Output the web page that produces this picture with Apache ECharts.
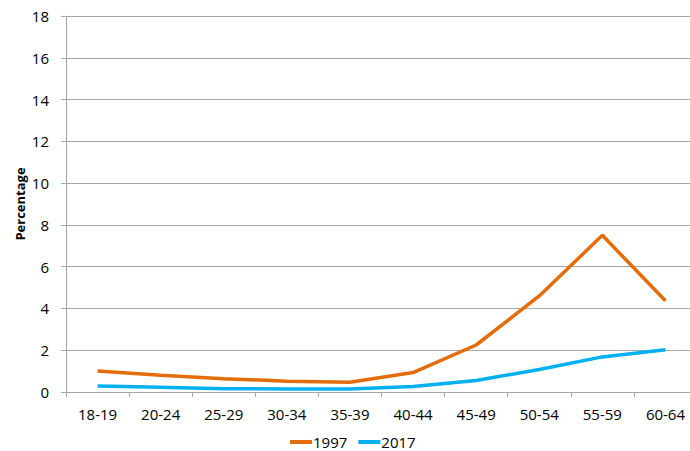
<!DOCTYPE html>
<html>
<head>
<meta charset="utf-8">
<script src="https://cdn.jsdelivr.net/npm/echarts@6/dist/echarts.min.js"></script>
<style>
  html, body { margin: 0; padding: 0; background: #fff; }
  #chart { width: 690px; height: 451px; }
</style>
</head>
<body>
<div id="chart"></div>
<script>
var ageGroups = ['18-19', '20-24', '25-29', '30-34', '35-39', '40-44', '45-49', '50-54', '55-59', '60-64'];
var values1997 = [1.0, 0.8, 0.64, 0.52, 0.47, 0.93, 2.25, 4.6, 7.5, 4.37];
var values2017 = [0.29, 0.23, 0.16, 0.14, 0.14, 0.26, 0.55, 1.08, 1.68, 2.02];
var yTicks = { min: 0, max: 18, step: 2 };

var orange = '#E46C0A';
var blue = '#00B0F0';
var grey = '#A6A6A6';
var font = '"Open Sans", sans-serif';

var chart = echarts.init(document.getElementById('chart'), null, { renderer: 'svg' });
chart.setOption({
  animation: false,
  // the plot runs a little past the right edge of the picture, as in the reference
  grid: { left: 66, width: 631, top: 16, height: 376, outerBoundsMode: 'none', containLabel: false },
  legend: {
    data: ['1997', '2017'],
    left: 285,
    top: 429,
    icon: 'rect',
    itemWidth: 22,
    itemHeight: 4,
    itemGap: 11,
    textStyle: { color: '#000', fontSize: 15, lineHeight: 16, fontFamily: font, padding: [0, 0, 0, -4] }
  },
  xAxis: {
    type: 'category',
    data: ageGroups,
    boundaryGap: true,
    axisLine: { lineStyle: { color: grey, width: 1 } },
    axisTick: { show: true, length: 5, lineStyle: { color: grey } },
    axisLabel: { color: '#000', fontSize: 15, fontFamily: font, margin: 14, interval: 0 }
  },
  yAxis: {
    type: 'value',
    min: yTicks.min,
    max: yTicks.max,
    interval: yTicks.step,
    name: 'Percentage',
    nameLocation: 'middle',
    nameGap: 40,
    nameMoveOverlap: false,
    nameTextStyle: { color: '#000', fontSize: 13, fontWeight: 'bold', fontFamily: font },
    axisLine: { show: true, lineStyle: { color: grey, width: 1 } },
    axisTick: { show: true, length: 5, lineStyle: { color: grey } },
    axisLabel: { color: '#000', fontSize: 15, fontFamily: font, margin: 17 },
    splitLine: { lineStyle: { color: grey, width: 1 } }
  },
  series: [
    {
      name: '1997',
      type: 'line',
      data: values1997,
      showSymbol: false,
      symbol: 'none',
      lineStyle: { color: orange, width: 3.5 },
      itemStyle: { color: orange }
    },
    {
      name: '2017',
      type: 'line',
      data: values2017,
      showSymbol: false,
      symbol: 'none',
      lineStyle: { color: blue, width: 3.5 },
      itemStyle: { color: blue }
    }
  ]
});
</script>
</body>
</html>
